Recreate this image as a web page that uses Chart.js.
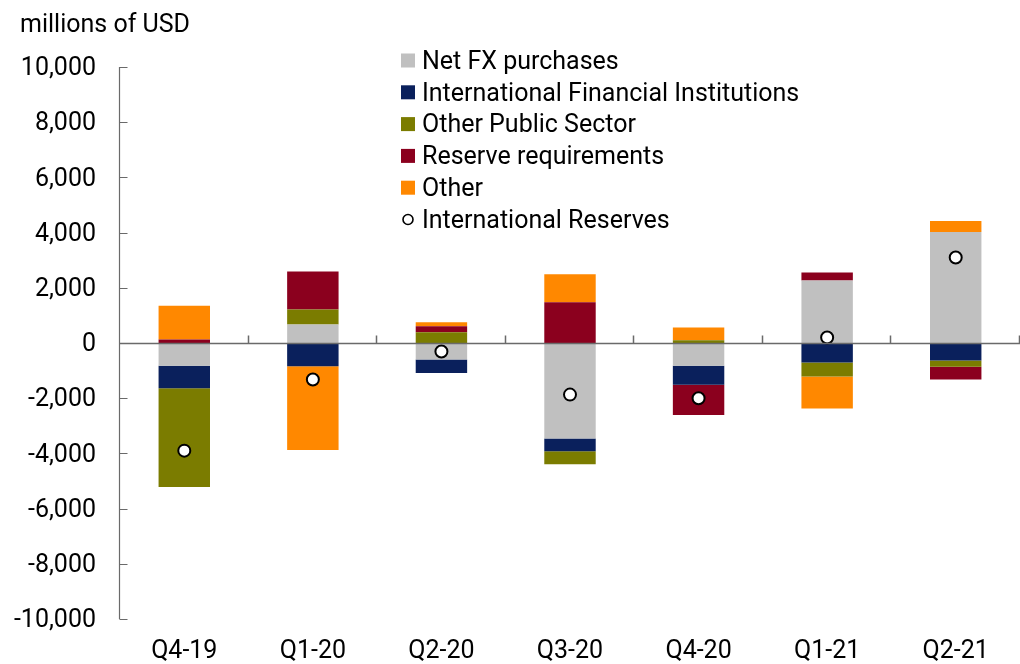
<!DOCTYPE html>
<html>
<head>
<meta charset="utf-8">
<script src="https://cdn.jsdelivr.net/npm/chart.js@4/dist/chart.umd.min.js"></script>
<style>
  html, body { margin: 0; padding: 0; background: #ffffff; }
  #wrap { width: 1020px; height: 664px; position: relative; }
</style>
</head>
<body>
<div id="wrap"><canvas id="c" width="1020" height="664"></canvas></div>
<script>
const categories = ['Q4-19', 'Q1-20', 'Q2-20', 'Q3-20', 'Q4-20', 'Q1-21', 'Q2-21'];
const netFX = [-820, 670, -600, -3460, -820, 2260, 4020];
const ifi = [-820, -840, -490, -460, -690, -710, -630];
const otherPublic = [-3580, 540, 390, -470, 100, -500, -230];
const reserveReq = [130, 1380, 220, 1480, -1100, 290, -460];
const other = [1220, -3040, 140, 1010, 460, -1160, 400];
const reserves = [-3900, -1320, -310, -1870, -2000, 200, 3100];
const yTicks = [-10000, -8000, -6000, -4000, -2000, 0, 2000, 4000, 6000, 8000, 10000];
const yAxisTitle = 'millions of USD';

const FONT = 'Roboto, "Liberation Sans", sans-serif';
const FSIZE = 25;

const decorPlugin = {
  id: 'decor',
  afterDatasetsDraw(chart) {
    const ctx = chart.ctx;
    const ca = chart.chartArea;
    const y = chart.scales.y;
    ctx.save();
    ctx.strokeStyle = '#6a6a6a';
    ctx.lineWidth = 1.5;
    const y0 = Math.round(y.getPixelForValue(0)) + 0.5;
    ctx.beginPath();
    ctx.moveTo(ca.left, y0); ctx.lineTo(ca.right, y0);
    const n = categories.length;
    const w = (ca.right - ca.left) / n;
    for (let i = 1; i <= n; i++) {
      const px = Math.round(ca.left + i * w) - 0.5;
      ctx.moveTo(px, y0); ctx.lineTo(px, y0 - 8);
    }
    ctx.stroke();
    ctx.lineWidth = 1.2;
    ctx.beginPath();
    const ax = ca.left - 0.5;
    ctx.moveTo(ax, y.getPixelForValue(10000)); ctx.lineTo(ax, y.getPixelForValue(-10000));
    yTicks.forEach(v => {
      const py = Math.round(y.getPixelForValue(v)) + 0.5;
      ctx.moveTo(ax, py); ctx.lineTo(ax + 8, py);
    });
    ctx.stroke();
    ctx.restore();
  },
  afterDraw(chart) {
    const ctx = chart.ctx;
    ctx.save();
    ctx.fillStyle = '#000';
    ctx.font = FSIZE + 'px ' + FONT;
    ctx.textBaseline = 'middle';
    ctx.textAlign = 'left';
    ctx.fillText(yAxisTitle, 20, 26);
    const lx = 401, ly0 = 60.5, step = 31.8;
    chart.data.datasets.forEach((ds, i) => {
      const cy = ly0 + i * step;
      if (ds.type === 'line') {
        ctx.beginPath();
        ctx.arc(lx + 7, cy, 5, 0, Math.PI * 2);
        ctx.fillStyle = '#fff';
        ctx.fill();
        ctx.lineWidth = 1.6;
        ctx.strokeStyle = '#000';
        ctx.stroke();
      } else {
        ctx.fillStyle = ds.backgroundColor;
        ctx.fillRect(lx, cy - 7, 14, 14);
      }
      ctx.fillStyle = '#000';
      ctx.font = FSIZE + 'px ' + FONT;
      ctx.fillText(ds.label, lx + 21, cy + 2);
    });
    ctx.restore();
  }
};

const barCommon = { type: 'bar', stack: 'flows', barPercentage: 0.4, categoryPercentage: 1.0, borderWidth: 0, order: 2 };

new Chart(document.getElementById('c'), {
  data: {
    labels: categories,
    datasets: [
      Object.assign({ label: 'Net FX purchases', data: netFX, backgroundColor: '#C0C0C0' }, barCommon),
      Object.assign({ label: 'International Financial Institutions', data: ifi, backgroundColor: '#0A205C' }, barCommon),
      Object.assign({ label: 'Other Public Sector', data: otherPublic, backgroundColor: '#7B7C00' }, barCommon),
      Object.assign({ label: 'Reserve requirements', data: reserveReq, backgroundColor: '#8B001E' }, barCommon),
      Object.assign({ label: 'Other', data: other, backgroundColor: '#FF8800' }, barCommon),
      { type: 'line', label: 'International Reserves', data: reserves, stack: 'reserves', showLine: false,
        pointRadius: 6, pointHoverRadius: 6, pointBackgroundColor: '#ffffff', pointBorderColor: '#000000',
        pointBorderWidth: 2, backgroundColor: '#ffffff', borderColor: '#000000', order: 1, clip: false }
    ]
  },
  options: {
    responsive: false,
    animation: false,
    events: [],
    layout: { autoPadding: false, padding: { top: 67, right: 0, left: 0, bottom: 0 } },
    plugins: { legend: { display: false }, title: { display: false }, tooltip: { enabled: false } },
    scales: {
      x: {
        stacked: true,
        grid: { display: false, drawTicks: false },
        border: { display: false },
        ticks: { color: '#000', font: { family: FONT, size: FSIZE }, padding: 18, maxRotation: 0 },
        afterFit(s) { s.height = 45; s.paddingLeft = 0; s.paddingRight = 0; }
      },
      y: {
        stacked: true,
        min: -10000, max: 10000,
        afterBuildTicks(s) { s.ticks = yTicks.map(v => ({ value: v })); },
        grid: { display: false, drawTicks: false },
        border: { display: false },
        ticks: { color: '#000', font: { family: FONT, size: FSIZE }, padding: 24, labelOffset: 2,
          callback: v => v.toLocaleString('en-US') },
        afterFit(s) { s.width = 120; s.paddingTop = 0; s.paddingBottom = 0; }
      }
    }
  },
  plugins: [decorPlugin]
});
</script>
</body>
</html>
